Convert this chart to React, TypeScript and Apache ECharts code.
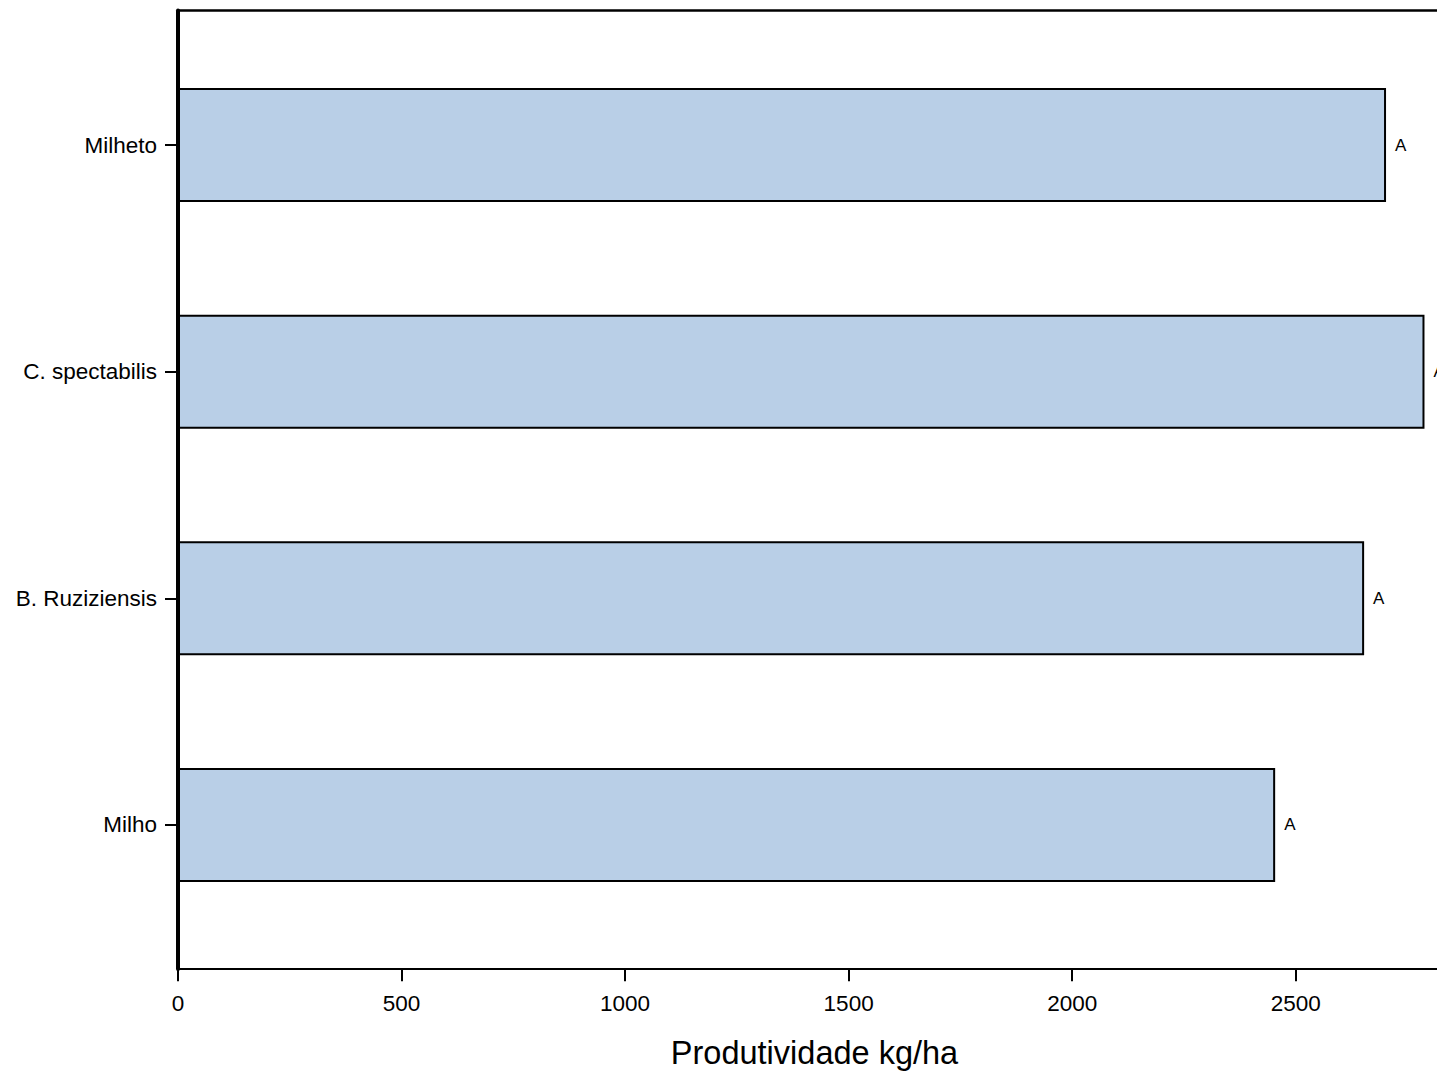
import React, { useEffect, useRef } from "react";
import * as echarts from "echarts";

const categories = ["Milho", "B. Ruziziensis", "C. spectabilis", "Milheto"];
const values = [2454, 2653, 2788, 2702];
const letters = ["A", "A", "A", "A"];
const xTicks = [0, 500, 1000, 1500, 2000, 2500];

const FONT = "'Liberation Sans', Arial, Helvetica, sans-serif";

export default function App() {
  const ref = useRef<HTMLDivElement>(null);
  useEffect(() => {
    if (!ref.current) return;
    const chart = echarts.init(ref.current, undefined, { renderer: "svg" });
    chart.setOption({
      animation: false,
      backgroundColor: "#ffffff",
      textStyle: { fontFamily: FONT },
      grid: [
        { left: 178, right: 0, top: 31.7, bottom: 137.7, containLabel: false },
        { left: 178, right: 0, top: 10.5, bottom: 107, containLabel: false },
      ],
      xAxis: [
        {
          type: "value",
          gridIndex: 0,
          min: 0,
          max: 2816,
          interval: 500,
          offset: 30,
          axisLine: { show: true, onZero: false, lineStyle: { color: "#000", width: 2 } },
          axisTick: { show: true, length: 13, lineStyle: { color: "#000", width: 2 } },
          axisLabel: {
            show: true,
            color: "#000",
            fontSize: 22.5,
            fontFamily: FONT,
            margin: 24,
            showMaxLabel: false,
            formatter: (v: number) => (xTicks.includes(v) ? String(v) : ""),
          },
          splitLine: { show: false },
          name: "Produtividade kg/ha",
          nameLocation: "middle",
          nameGap: 68,
          nameTextStyle: { color: "#000", fontSize: 32.5, fontFamily: FONT, padding: [0, 0, 0, 14] },
        },
        {
          type: "value",
          gridIndex: 1,
          position: "top",
          min: 0,
          max: 1,
          axisLine: { show: true, onZero: false, lineStyle: { color: "#000", width: 2.5 } },
          axisTick: { show: false },
          axisLabel: { show: false },
          splitLine: { show: false },
        },
      ],
      yAxis: [
        {
          type: "category",
          gridIndex: 0,
          data: categories,
          axisLine: { show: false },
          axisTick: { show: true, alignWithLabel: true, length: 13, lineStyle: { color: "#000", width: 2 } },
          axisLabel: { color: "#000", fontSize: 22.5, fontFamily: FONT, margin: 21 },
          splitLine: { show: false },
        },
        {
          type: "value",
          gridIndex: 1,
          position: "left",
          min: 0,
          max: 1,
          axisLine: { show: true, onZero: false, lineStyle: { color: "#000", width: 4 } },
          axisTick: { show: false },
          axisLabel: { show: false },
          splitLine: { show: false },
        },
      ],
      series: [
        {
          type: "bar",
          xAxisIndex: 0,
          yAxisIndex: 0,
          data: values,
          barWidth: 114,
          itemStyle: { color: "#b9cfe7", borderColor: "#000", borderWidth: 2 },
          label: {
            show: true,
            position: "right",
            distance: 9,
            color: "#000",
            fontSize: 17,
            fontFamily: FONT,
            formatter: (p: any) => letters[p.dataIndex],
          },
        },
      ],
    });
    return () => chart.dispose();
  }, []);
  return (
    <div
      ref={ref}
      style={{ position: "fixed", left: 0, top: 0, width: 1437, height: 1076, background: "#fff" }}
    />
  );
}
